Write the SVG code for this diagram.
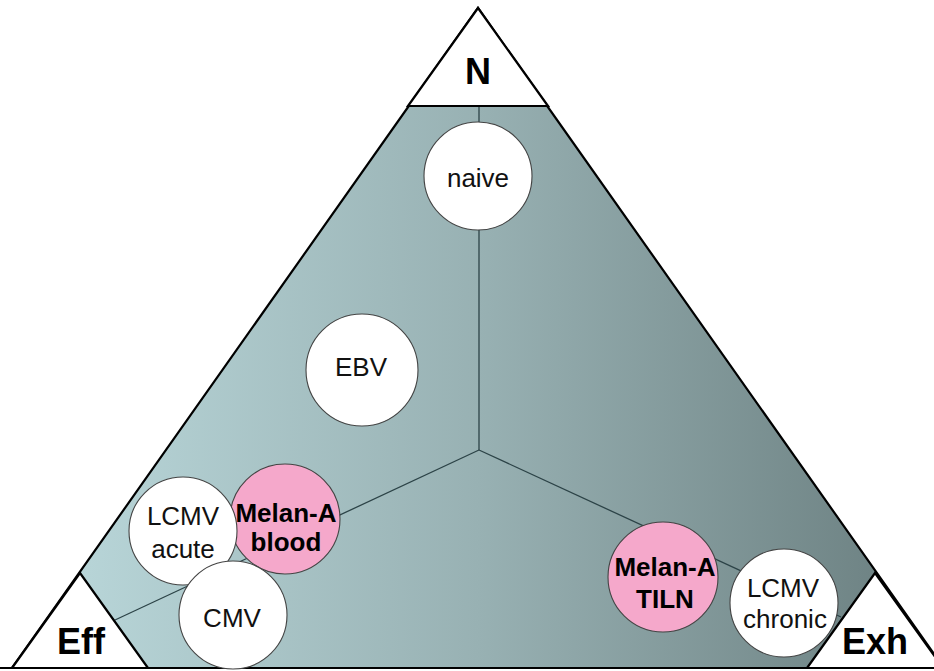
<svg xmlns="http://www.w3.org/2000/svg" width="934" height="671" viewBox="0 0 934 671">
<defs>
<linearGradient id="bg" gradientUnits="userSpaceOnUse" x1="12" y1="0" x2="944" y2="0">
<stop offset="0" stop-color="#bddbde"/>
<stop offset="0.5" stop-color="#98b1b3"/>
<stop offset="1" stop-color="#687c7d"/>
</linearGradient>
<style>
.corner{fill:#fff;stroke:#000;stroke-width:2.2;stroke-linejoin:miter}
.edge{fill:none;stroke:#000;stroke-width:2.2}
.conn{fill:none;stroke:#2c4347;stroke-width:1.3}
.node{stroke:#444;stroke-width:1.1}
.w{fill:#fff}
.p{fill:#f5a8cb}
.t{font-family:"Liberation Sans",Arial,sans-serif;font-size:26px;text-anchor:middle;fill:#111}
.b{font-weight:bold;fill:#000}
.big{font-family:"Liberation Sans",Arial,sans-serif;font-size:36px;font-weight:bold;text-anchor:middle;fill:#000}
</style>
</defs>
<rect width="934" height="671" fill="#fff"/>
<path d="M478,8 L12,668 L944,668 Z" fill="url(#bg)"/>
<g id="connectors">
<line class="conn" x1="479" y1="450" x2="479" y2="106"/>
<line class="conn" x1="479" y1="450" x2="115" y2="620"/>
<line class="conn" x1="479" y1="450" x2="841" y2="617"/>
</g>
<path class="edge" d="M478,8 L12,668 L944,668 Z"/>
<g id="corner-N"><path class="corner" d="M478,8 L408,106 L548,106 Z"/><text class="big" x="478" y="84">N</text></g>
<g id="corner-Eff"><path class="corner" d="M80,573 L12,668 L148,668 Z"/><text class="big" x="81" y="654">Eff</text></g>
<g id="corner-Exh"><path class="corner" d="M875,573 L807,668 L943,668 Z"/><text class="big" x="875" y="654">Exh</text></g>
<line class="edge" x1="0" y1="668" x2="934" y2="668"/>
<g id="naive"><circle class="node w" cx="478" cy="176" r="54"/><text class="t" x="478" y="187">naive</text></g>
<g id="EBV"><circle class="node w" cx="362" cy="370" r="56"/><text class="t" x="361" y="376">EBV</text></g>
<g id="melanA-blood"><circle class="node p" cx="285" cy="519" r="55"/></g>
<g id="LCMV-acute"><circle class="node w" cx="183" cy="531" r="54"/><text class="t" x="183" y="525">LCMV</text><text class="t" x="183" y="558">acute</text></g>
<g id="melanA-blood-label"><text class="t b" x="286" y="522">Melan-A</text><text class="t b" x="286" y="551">blood</text></g>
<g id="CMV"><circle class="node w" cx="233" cy="615" r="54"/><text class="t" x="232" y="627">CMV</text></g>
<g id="melanA-TILN"><circle class="node p" cx="663" cy="577" r="55"/><text class="t b" x="665" y="576">Melan-A</text><text class="t b" x="665" y="608">TILN</text></g>
<g id="LCMV-chronic"><circle class="node w" cx="784" cy="603" r="54"/><text class="t" x="783" y="597">LCMV</text><text class="t" x="785" y="628">chronic</text></g>
</svg>
